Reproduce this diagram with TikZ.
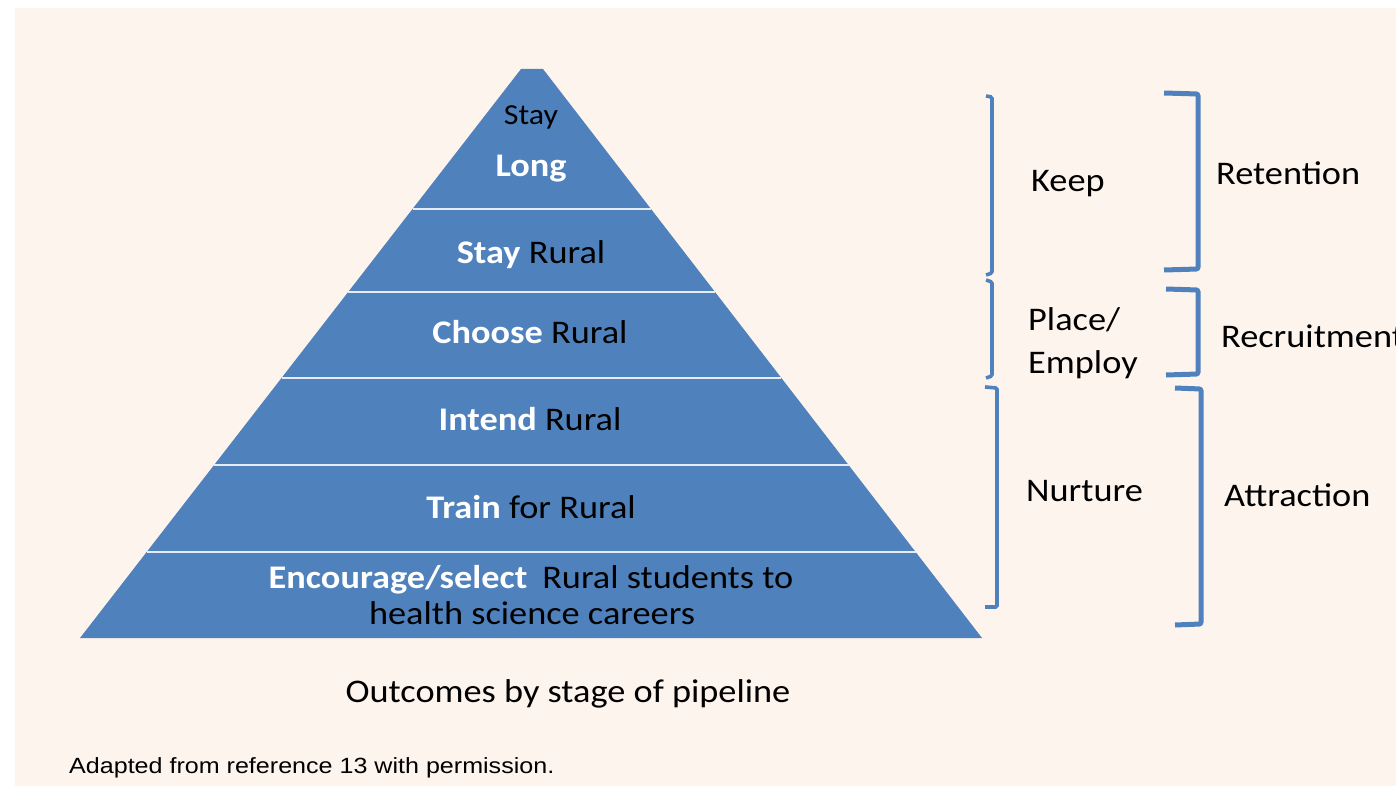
\documentclass[tikz,border=0pt]{standalone}
\usepackage{fontspec}
\setmainfont{Carlito}[FakeStretch=1.1]
\newfontfamily\notefont{Liberation Sans}[FakeStretch=1.14]
\definecolor{cream}{HTML}{FEF4EE}
\definecolor{pyr}{HTML}{4F81BD}
\definecolor{brk}{HTML}{4F81BD}
\tikzset{
  sep/.style={draw=white!85!pyr, line width=2.6pt},
  lbrk/.style={draw=brk, line width=3.6pt, rounded corners=1.5pt},
  rbrk/.style={draw=brk, line width=5pt, rounded corners=2pt},
  lbl/.style={inner sep=0pt, anchor=base, font=\fontsize{33}{38}\selectfont},
  side/.style={inner sep=0pt, anchor=base west, font=\fontsize{33}{38}\selectfont},
  wb/.style={text=white, font=\bfseries}
}
\newcommand{\wbold}[1]{\textcolor{white}{\bfseries #1}}
\begin{document}
\begin{tikzpicture}[x=1pt,y=-1pt]
\useasboundingbox (0,0) rectangle (1396,786);
\fill[white] (0,0) rectangle (1396,786);
\fill[cream] (15,8) rectangle (1396,786);
% pyramid
\fill[pyr] (521,69) -- (543,69) -- (982,638) -- (80,638) -- cycle;
\draw[sep] (412.5,209) -- (651.0,209);
\draw[sep] (348.2,292) -- (715.1,292);
\draw[sep] (281.5,378) -- (781.4,378);
\draw[sep] (214.1,465) -- (848.5,465);
\draw[sep] (146.7,552) -- (915.6,552);
% layer labels
\node[lbl, font=\fontsize{29}{34}\selectfont] (stay) at (531,125) {Stay};
\node[lbl] (long) at (531,177) {\wbold{Long}};
\node[lbl] (stayrural) at (531,263) {\wbold{Stay} Rural};
\node[lbl] (choose) at (530,343) {\wbold{Choose} Rural};
\node[lbl] (intend) at (530,430) {\wbold{Intend} Rural};
\node[lbl] (train) at (531,518) {\wbold{Train} for Rural};
\node[lbl] (enc) at (531,588) {\wbold{Encourage/select}\hspace{0.45em}Rural students to};
\node[lbl] (health) at (532,624) {health science careers};
% caption
\node[lbl] (outcomes) at (568,702) {Outcomes by stage of pipeline};
\node[inner sep=0pt, anchor=base west, font=\notefont\fontsize{22}{26}\selectfont] (note) at (69,773) {Adapted from reference 13 with permission.};
% left brackets
\draw[lbrk] (986,96) -- (992,97) -- (992,273) -- (986,275);
\draw[lbrk] (986,280) -- (992,282) -- (992,376) -- (986,378);
\draw[lbrk] (985,387) -- (997,388) -- (997,607) -- (985,607);
% right brackets
\draw[rbrk] (1164,93) -- (1198,94) -- (1198,269) -- (1164,270);
\draw[rbrk] (1166,289) -- (1198,290) -- (1198,374) -- (1166,375);
\draw[rbrk] (1175,388) -- (1201,389) -- (1201,624) -- (1175,625);
% side labels
\node[side] (keep) at (1031,192) {Keep};
\node[side] (place) at (1028,330) {Place/};
\node[side] (employ) at (1028,373) {Employ};
\node[side] (nurture) at (1026,501) {Nurture};
\node[side] (retention) at (1216,185) {Retention};
\node[side] (recruit) at (1221,347) {Recruitment};
\node[side] (attract) at (1224,506) {Attraction};
\end{tikzpicture}
\end{document}
